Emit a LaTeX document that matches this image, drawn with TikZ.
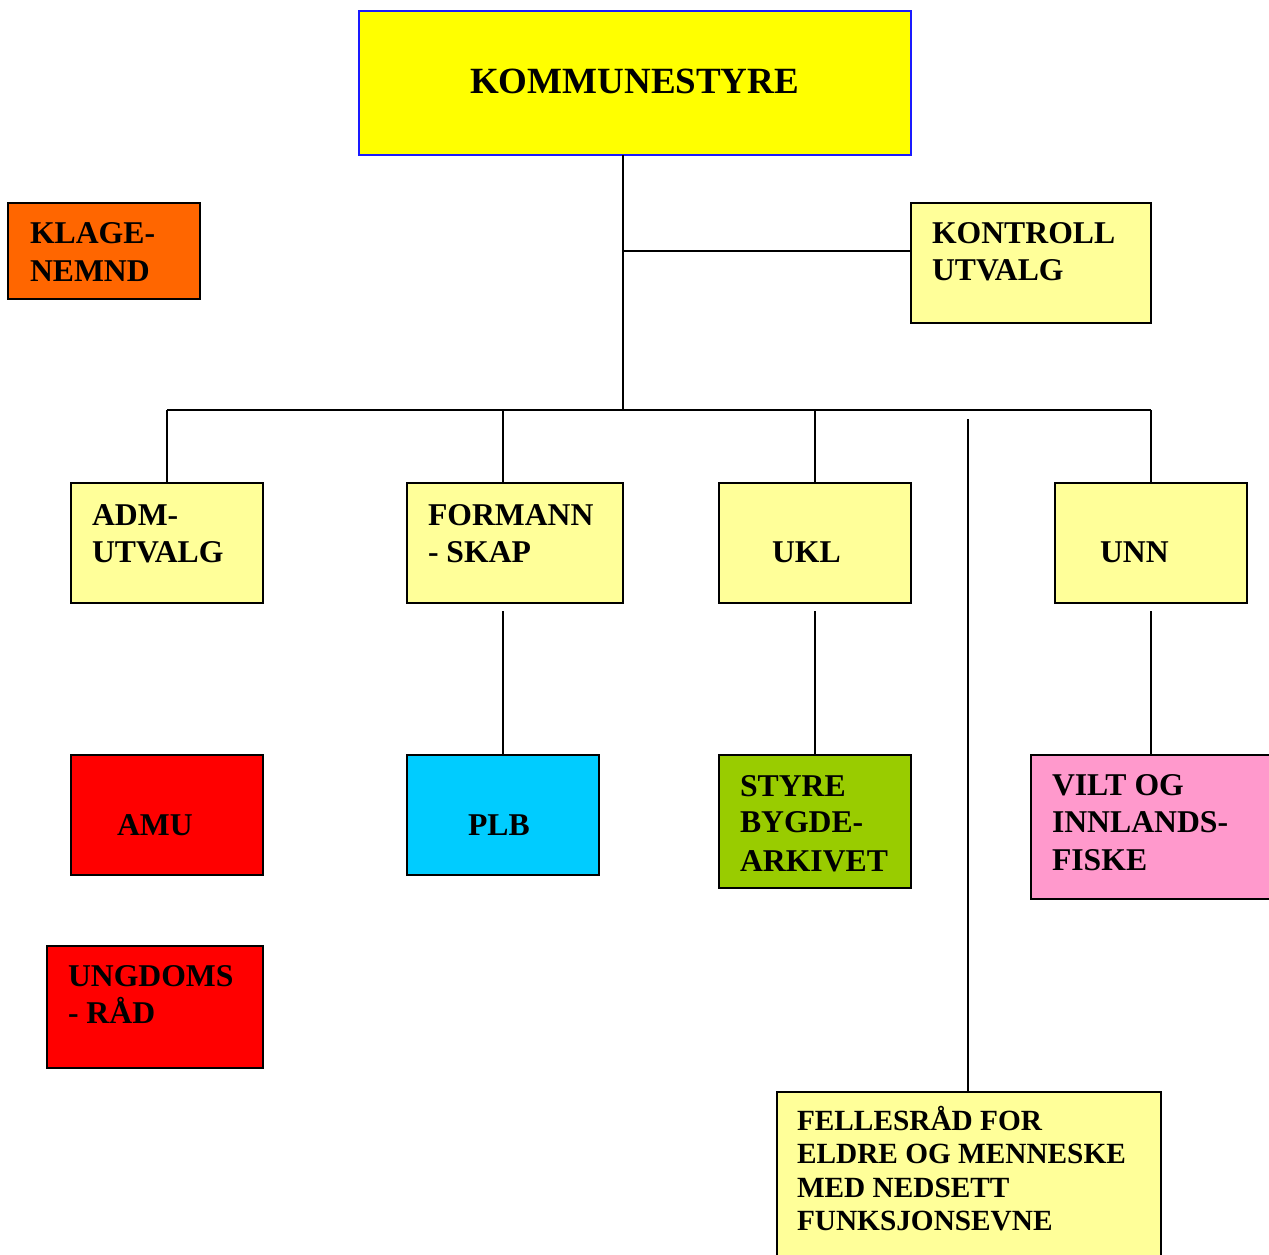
\documentclass[tikz,border=0pt]{standalone}
\usepackage{fontspec}
\setmainfont{Liberation Serif}
\definecolor{lyellow}{HTML}{FFFF99}
\definecolor{kyellow}{HTML}{FFFF00}
\definecolor{korange}{HTML}{FF6600}
\definecolor{kred}{HTML}{FF0000}
\definecolor{kcyan}{HTML}{00CCFF}
\definecolor{kgreen}{HTML}{99CC00}
\definecolor{kpink}{HTML}{FF99CC}
\definecolor{kblue}{HTML}{1A1AFF}
\tikzset{
  box/.style={draw=black, line width=2pt, rectangle, inner sep=0pt, outer sep=0pt},
  lbl/.style={anchor=base west, inner sep=0pt, outer sep=0pt, font=\fontsize{31.7}{38}\selectfont\bfseries},
  small/.style={anchor=base west, inner sep=0pt, outer sep=0pt, font=\fontsize{29.3}{34}\selectfont\bfseries},
  conn/.style={line width=2pt, black},
}
\newcommand{\boxat}[6]{% name, x1,y1,x2,y2, style
  \path[#6] (#2,#3) rectangle (#4,#5);
  \coordinate (#1-nw) at (#2,#3);
  \coordinate (#1-se) at (#4,#5);
}
\begin{document}
\begin{tikzpicture}[x=1pt,y=-1pt]
\clip (0,0) rectangle (1269,1255);
\fill[white] (0,0) rectangle (1269,1255);

% connectors (behind boxes)
\coordinate (hub) at (623,410);
\coordinate (kvpt) at (623,251);
\coordinate (barL) at (167,410);
\coordinate (barR) at (1151,410);

% boxes as nodes
\node[box, draw=kblue, fill=kyellow, minimum width=552pt, minimum height=144pt, anchor=north west] (kom) at (359,11) {};
\node[box, fill=korange, minimum width=192pt, minimum height=96pt, anchor=north west] (klage) at (8,203) {};
\node[box, fill=lyellow, minimum width=240pt, minimum height=120pt, anchor=north west] (kontroll) at (911,203) {};
\node[box, fill=lyellow, minimum width=192pt, minimum height=120pt, anchor=north west] (adm) at (71,483) {};
\node[box, fill=lyellow, minimum width=216pt, minimum height=120pt, anchor=north west] (formann) at (407,483) {};
\node[box, fill=lyellow, minimum width=192pt, minimum height=120pt, anchor=north west] (ukl) at (719,483) {};
\node[box, fill=lyellow, minimum width=192pt, minimum height=120pt, anchor=north west] (unn) at (1055,483) {};
\node[box, fill=kred, minimum width=192pt, minimum height=120pt, anchor=north west] (amu) at (71,755) {};
\node[box, fill=kcyan, minimum width=192pt, minimum height=120pt, anchor=north west] (plb) at (407,755) {};
\node[box, fill=kgreen, minimum width=192pt, minimum height=133pt, anchor=north west] (styre) at (719,755) {};
\node[box, fill=kpink, minimum width=250pt, minimum height=144pt, anchor=north west] (vilt) at (1031,755) {};
\node[box, fill=kred, minimum width=216pt, minimum height=122pt, anchor=north west] (ungdom) at (47,946) {};
\node[box, fill=lyellow, minimum width=384pt, minimum height=180pt, anchor=north west] (felles) at (777,1092) {};

% connectors
\draw[conn] (kom.south -| hub) -- (hub);
\draw[conn] (kvpt) -- (kontroll.west |- kvpt);
\draw[conn] (barL) -- (barR);
\draw[conn] (barL) -- (barL |- adm.north);
\draw[conn] (503,410) -- (formann.north -| 503,0);
\draw[conn] (815,410) -- (ukl.north -| 815,0);
\draw[conn] (barR) -- (barR |- unn.north);
\coordinate (fs) at (503,611);
\draw[conn] (fs) -- (fs |- plb.north);
\coordinate (us) at (815,611);
\draw[conn] (us) -- (us |- styre.north);
\coordinate (ns) at (1151,611);
\draw[conn] (ns) -- (ns |- vilt.north);
\coordinate (fl) at (968,419);
\draw[conn] (fl) -- (fl |- felles.north);

% labels
\node[anchor=base west, inner sep=0pt, font=\fontsize{37}{42}\selectfont\bfseries] (tkom) at (470,93) {KOMMUNESTYRE};
\node[lbl] (tk1) at (30,243) {KLAGE-};
\node[lbl] (tk2) at (30,281) {NEMND};
\node[lbl] (tc1) at (932,243) {KONTROLL};
\node[lbl] (tc2) at (932,280) {UTVALG};
\node[lbl] (ta1) at (92,525) {ADM-};
\node[lbl] (ta2) at (92,562) {UTVALG};
\node[lbl] (tf1) at (428,525) {FORMANN};
\node[lbl] (tf2) at (428,562) {- SKAP};
\node[lbl] (tu) at (772,562) {UKL};
\node[lbl] (tn) at (1100,562) {UNN};
\node[lbl] (tam) at (117,835) {AMU};
\node[lbl] (tp) at (468,835) {PLB};
\node[lbl] (ts1) at (740,796) {STYRE};
\node[lbl] (ts2) at (740,832) {BYGDE-};
\node[lbl] (ts3) at (740,871) {ARKIVET};
\node[lbl] (tv1) at (1052,795) {VILT OG};
\node[lbl] (tv2) at (1052,832) {INNLANDS-};
\node[lbl] (tv3) at (1052,870) {FISKE};
\node[lbl] (tg1) at (68,986) {UNGDOMS};
\node[lbl] (tg2) at (68,1023) {- RÅD};
\node[small] (te1) at (797,1130) {FELLESRÅD FOR};
\node[small] (te2) at (797,1163) {ELDRE OG MENNESKE};
\node[small] (te3) at (797,1197) {MED NEDSETT};
\node[small] (te4) at (797,1230) {FUNKSJONSEVNE};
\end{tikzpicture}
\end{document}
